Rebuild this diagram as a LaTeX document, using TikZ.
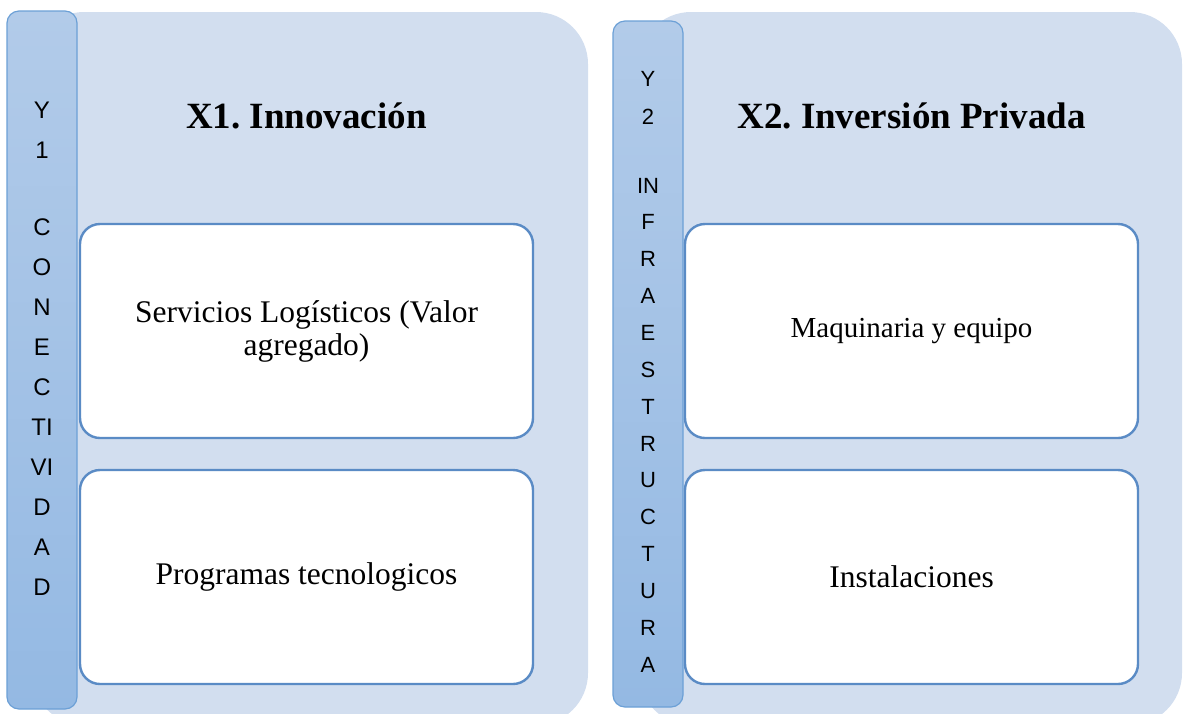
\documentclass[tikz,border=0pt]{standalone}
\usepackage{fontspec}
\setmainfont{Liberation Serif}
\newfontfamily\barfont{Liberation Sans}
\frenchspacing
\definecolor{panelfill}{HTML}{D2DEEF}
\definecolor{bartop}{HTML}{B2CBE9}
\definecolor{barbottom}{HTML}{94B9E3}
\definecolor{barline}{HTML}{6CA0D6}
\definecolor{boxline}{HTML}{5A8BC5}
\tikzset{
  panel/.style={fill=panelfill, draw=none, rounded corners=52pt},
  bar/.style={top color=bartop, bottom color=barbottom, draw=barline, line width=1.2pt, rounded corners=12pt},
  itembox/.style={draw=boxline, fill=white, line width=2.4pt, rounded corners=20pt,
    minimum width=453pt, minimum height=214pt, inner sep=0pt, outer sep=0pt,
    align=center, font=\fontsize{31.5}{33}\selectfont},
  title/.style={anchor=base, font=\fontsize{37}{40}\selectfont\bfseries},
  barletterL/.style={anchor=base, font=\barfont\fontsize{24}{26}\selectfont, inner sep=0pt},
  barletterR/.style={anchor=base, font=\barfont\fontsize{22}{24}\selectfont, inner sep=0pt}
}
\begin{document}
\begin{tikzpicture}[x=1pt,y=-1pt]
\useasboundingbox (0,0) rectangle (1183,713);
% panels
\path[panel] (32,12) rectangle (588,725);
\path[panel] (639,12) rectangle (1182,725);
% bars
\path[bar] (7,11) rectangle (77,709);
\path[bar] (613,21) rectangle (683,707);
% left bar letters
\foreach \t/\yy [count=\i] in {Y/109,1/149,C/226,O/266,N/306,E/346,C/386,TI/426,VI/466,D/506,A/546,D/586}
  \node[barletterL] (lb\i) at (42,\yy+9) {\t};
% right bar letters
\foreach \t/\yy [count=\i] in {Y/78,2/116,IN/185,F/221,R/258,A/295,E/332,S/369,T/406,R/443,U/479,C/516,T/553,U/590,R/627,A/664}
  \node[barletterR] (rb\i) at (648,\yy+8) {\t};
% titles
\node[title] (t1) at (306.5,128) {X1. Innovación};
\node[title] (t2) at (911.5,128) {X2. Inversión Privada};
% boxes
\node[itembox] (b1) at (306.5,331) {Servicios Logísticos (Valor\\agregado)};
\node[itembox] (b2) at (306.5,577) {Programas tecnologicos};
\node[itembox, font=\fontsize{29}{31}\selectfont] (b3) at (911.5,331) {Maquinaria y equipo};
\node[itembox] (b4) at (911.5,577) {Instalaciones};
\end{tikzpicture}
\end{document}
